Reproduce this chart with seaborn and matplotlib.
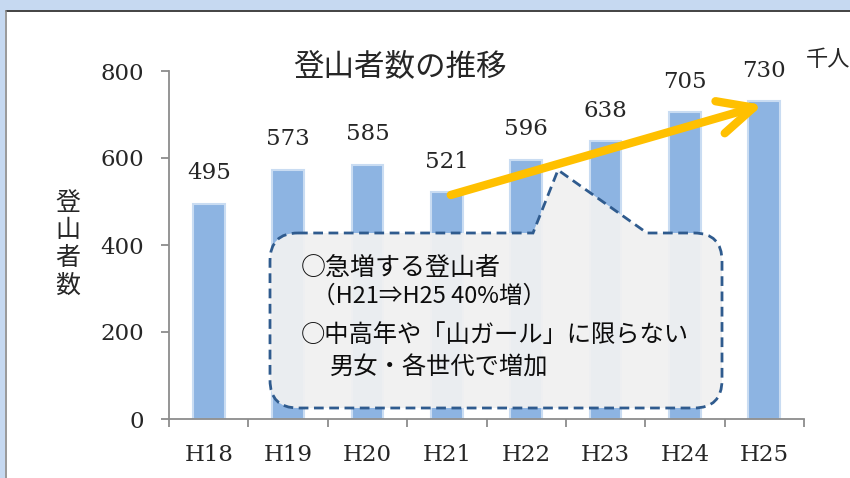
import numpy as np
import matplotlib
matplotlib.use("Agg")
import matplotlib.pyplot as plt
import seaborn as sns
from matplotlib.path import Path
from matplotlib.patches import PathPatch, Rectangle
from matplotlib.lines import Line2D
from matplotlib.transforms import Affine2D

years = ["H18", "H19", "H20", "H21", "H22", "H23", "H24", "H25"]
climbers = [495, 573, 585, 521, 596, 638, 705, 730]  # 千人
yticks = [0, 200, 400, 600, 800]

title = "登山者数の推移"
ylabel = "登山者数"
unit = "千人"
note_lines = ["○急増する登山者", "（H21⇒H25 40%増）",
              "○中高年や「山ガール」に限らない", "男女・各世代で増加"]

# trend arrow H21 -> H25 (category index, value)
arrow_start = (3.05, 515)
arrow_end = (6.98, 722)

sns.set_style("white")
JP = ["Noto Sans CJK JP", "DejaVu Sans"]
SERIF = ["DejaVu Serif"]

W, H = 850, 478
fig = plt.figure(figsize=(W / 100, H / 100), dpi=100, facecolor="white")
ax = fig.add_axes([169 / W, 1 - 419 / H, (804 - 169) / W, (419 - 71) / H])

sns.barplot(x=years, y=climbers, color="#8DB4E2", saturation=1, width=0.4,
            edgecolor="#C9DCF2", linewidth=1.5, ax=ax, zorder=2)

ax.set_xlim(-0.5, len(years) - 0.5)
ax.set_ylim(0, 800)
ax.set_yticks(yticks)
ax.set_xticks(np.arange(-0.5, len(years), 1), minor=True)
ax.set_xlabel("")
ax.set_ylabel("")
for s in ["top", "right"]:
    ax.spines[s].set_visible(False)
for s in ["left", "bottom"]:
    ax.spines[s].set_color("#8C8C8C")
    ax.spines[s].set_linewidth(1.3)
ax.tick_params(axis="y", length=6, width=1.3, color="#8C8C8C", pad=12,
               labelsize=16.5, left=True)
ax.tick_params(axis="x", which="major", length=0, pad=18, labelsize=16.5)
ax.tick_params(axis="x", which="minor", length=6, width=1.3, color="#8C8C8C",
               bottom=True)
for lab in ax.get_xticklabels() + ax.get_yticklabels():
    lab.set_family(SERIF)

for i, v in enumerate(climbers):
    ax.annotate(str(v), xy=(i, v), xytext=(0, 14), textcoords="offset points",
                ha="center", va="bottom", fontsize=16.5, family=SERIF)

# callout box in pixel coordinates
L, R, T, B, r = 270, 722, 233, 408, 28
bx1, bx2, apex = 533, 647, (558, 170)
verts = [(L + r, T), (bx1, T), apex, (bx2, T), (R - r, T),
         (R, T), (R, T + r), (R, B - r), (R, B), (R - r, B),
         (L + r, B), (L, B), (L, B - r), (L, T + r), (L, T), (L + r, T),
         (L + r, T)]
codes = [Path.MOVETO, Path.LINETO, Path.LINETO, Path.LINETO, Path.LINETO,
         Path.CURVE3, Path.CURVE3, Path.LINETO, Path.CURVE3, Path.CURVE3,
         Path.LINETO, Path.CURVE3, Path.CURVE3, Path.LINETO, Path.CURVE3,
         Path.CURVE3, Path.CLOSEPOLY]
px = Affine2D().scale(1 / W, -1 / H).translate(0, 1) + fig.transFigure
callout = PathPatch(Path(verts, codes), transform=px, facecolor=(0.945, 0.945, 0.945, 0.94),
                    edgecolor="#2F5B8E", linewidth=2.0, linestyle=(0, (3.5, 2)),
                    zorder=5, clip_on=False)
ax.add_patch(callout)

ax.annotate("", xy=arrow_end, xytext=arrow_start,
            arrowprops=dict(arrowstyle="->,head_length=1.25,head_width=0.6",
                            mutation_scale=20, lw=6, color="#FFC000",
                            capstyle="round", joinstyle="round",
                            shrinkA=0, shrinkB=0),
            zorder=6)

note_pos = [(301, 268, 18), (312, 296, 17), (301, 335, 17.5), (330, 368, 17.5)]
for (x, y, fs), line in zip(note_pos, note_lines):
    fig.text(x / W, 1 - y / H, line, ha="left", va="center", fontsize=fs,
             family=JP, color="#0D0D0D", zorder=7)

fig.text(400 / W, 1 - 67 / H, title, ha="center", va="center", fontsize=22, family=JP)
fig.text(68 / W, 1 - 244 / H, "\n".join(ylabel), ha="center", va="center",
         fontsize=18, family=JP, linespacing=1.08)
fig.text(806 / W, 1 - 59 / H, unit, ha="left", va="center", fontsize=16, family=JP)

# slide frame
fig.patches.append(Rectangle((0, 1 - 10 / H), 1, 10 / H, transform=fig.transFigure,
                             facecolor="#C6D9F1", edgecolor="none", zorder=0))
fig.patches.append(Rectangle((0, 0), 5 / W, 1, transform=fig.transFigure,
                             facecolor="#C6D9F1", edgecolor="none", zorder=0))
fig.add_artist(Line2D([6 / W, 1], [1 - 11 / H, 1 - 11 / H], transform=fig.transFigure,
                      color="#222222", lw=1.2))
fig.add_artist(Line2D([6 / W, 6 / W], [0, 1 - 11 / H], transform=fig.transFigure,
                      color="#888888", lw=1.2))

fig.savefig("out.png", dpi=100, facecolor="white")
